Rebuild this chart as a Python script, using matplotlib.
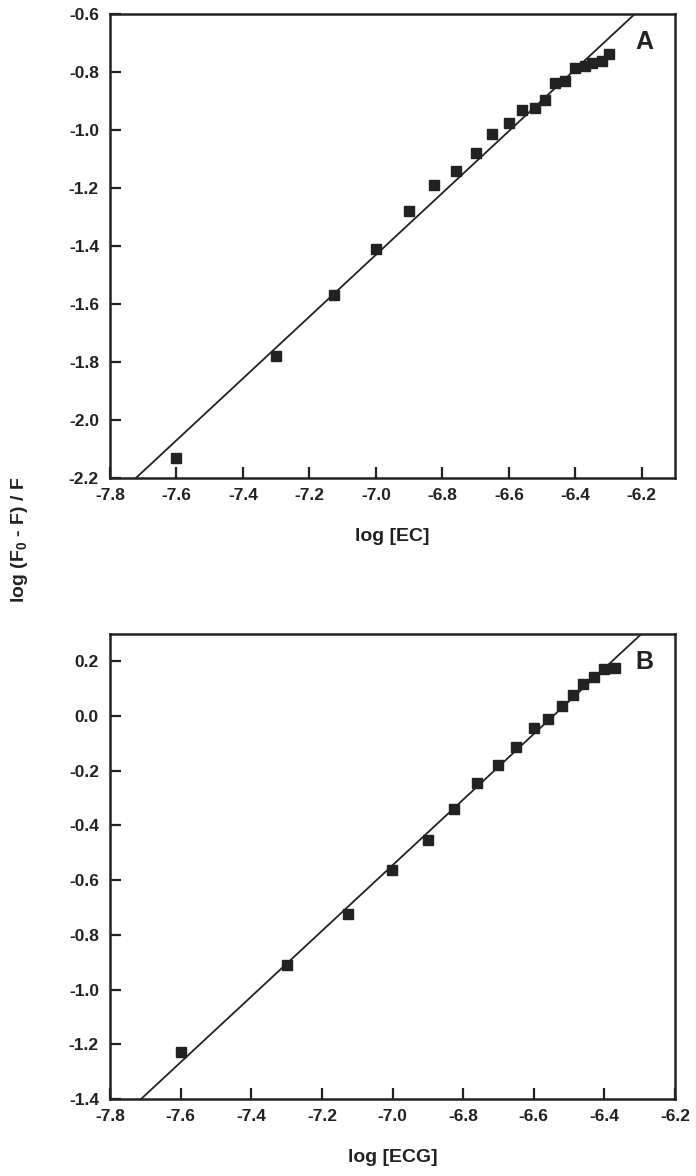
import numpy as np
import matplotlib
matplotlib.use('Agg')
import matplotlib.pyplot as plt

# data
ec_x = [-7.60, -7.30, -7.125, -7.00, -6.90, -6.825, -6.76, -6.70, -6.65, -6.60,
        -6.56, -6.52, -6.49, -6.46, -6.43, -6.40, -6.37, -6.35, -6.32, -6.30]
ec_y = [-2.13, -1.78, -1.57, -1.41, -1.28, -1.19, -1.14, -1.08, -1.015, -0.977,
        -0.930, -0.925, -0.897, -0.839, -0.831, -0.787, -0.779, -0.768, -0.761, -0.739]

ecg_x = [-7.60, -7.30, -7.125, -7.00, -6.90, -6.825, -6.76, -6.70, -6.65, -6.60,
         -6.56, -6.52, -6.49, -6.46, -6.43, -6.40, -6.37]
ecg_y = [-1.227, -0.910, -0.724, -0.564, -0.452, -0.340, -0.244, -0.180, -0.114, -0.043,
         -0.009, 0.036, 0.078, 0.119, 0.144, 0.171, 0.176]

# fitted lines (slope, intercept)
ec_fit = (1.066, -2.2 + 1.066 * 7.722)
ecg_fit = (1.20, -1.4 + 1.20 * 7.712)

ink = '#222222'
plt.rcParams['font.family'] = ['Liberation Sans', 'DejaVu Sans']
plt.rcParams['font.weight'] = 'bold'
plt.rcParams['axes.labelweight'] = 'bold'
plt.rcParams['mathtext.fontset'] = 'custom'
plt.rcParams['mathtext.rm'] = 'Liberation Sans:bold'
plt.rcParams['mathtext.default'] = 'rm'

fig = plt.figure(figsize=(6.96, 11.76), dpi=100)
W, H = 696, 1176

fmt = matplotlib.ticker.FuncFormatter(lambda v, p: f'{round(v, 1) + 0.0:.1f}')


def panel(rect, xs, ys, fit, xlim, ylim, yticks, xlabel, tag):
    l, t, r, b = rect
    ax = fig.add_axes([l / W, 1 - b / H, (r - l) / W, (b - t) / H])
    xx = np.array(xlim)
    ax.plot(xx, fit[0] * xx + fit[1], color=ink, lw=1.3, zorder=2)
    ax.plot(xs, ys, 's', color=ink, ms=7.8, zorder=3)
    ax.set_xlim(*xlim)
    ax.set_ylim(*ylim)
    ax.set_xticks(np.arange(-7.8, -6.19, 0.2))
    ax.set_yticks(yticks)
    ax.xaxis.set_major_formatter(fmt)
    ax.yaxis.set_major_formatter(fmt)
    ax.tick_params(direction='in', length=8, width=1.6, colors=ink,
                   labelsize=12.5, labelcolor=ink)
    ax.tick_params(axis='x', pad=7)
    ax.tick_params(axis='y', pad=8)
    for s in ax.spines.values():
        s.set_linewidth(1.8)
        s.set_color(ink)
    ax.set_xlabel(xlabel, fontsize=14, color=ink, labelpad=18)
    ax.text(0.945, 0.94, tag, transform=ax.transAxes, ha='center', va='center',
            fontsize=18, color=ink)
    return ax


panel((110, 14, 675, 478), ec_x, ec_y, ec_fit, (-7.8, -6.1), (-2.2, -0.6),
      np.arange(-2.2, -0.59, 0.2), 'log [EC]', 'A')
panel((110, 634, 675, 1099), ecg_x, ecg_y, ecg_fit, (-7.8, -6.2), (-1.4, 0.3),
      np.arange(-1.4, 0.21, 0.2), 'log [ECG]', 'B')

fig.text(20 / W, 1 - 540 / H, 'log (F$_0$ - F) / F', rotation=90, ha='center',
         va='center', fontsize=14, color=ink)

fig.savefig('out.png', dpi=100)
